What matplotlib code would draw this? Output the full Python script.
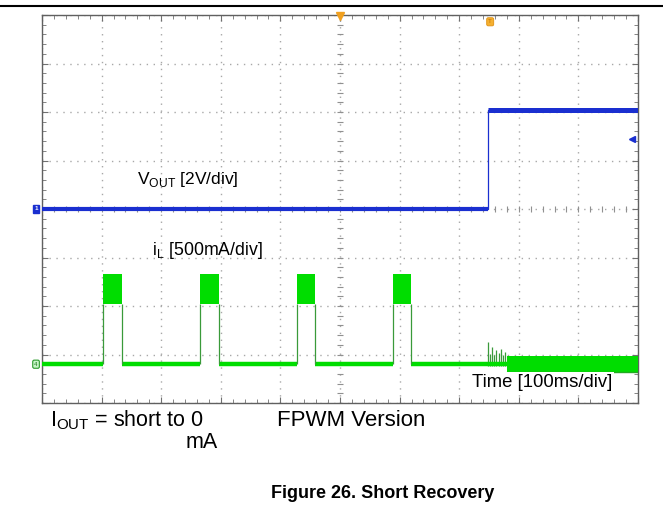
import matplotlib
matplotlib.use("Agg")
import matplotlib.pyplot as plt
from matplotlib.ticker import MultipleLocator
from matplotlib.lines import Line2D

plt.rcParams['font.family'] = ['Liberation Sans', 'DejaVu Sans']
plt.rcParams['mathtext.fontset'] = 'custom'
plt.rcParams['mathtext.rm'] = 'Liberation Sans'

# scope settings
T_DIV = 100.0      # ms per division
V_DIV = 2.0        # V per division (ch1)
I_DIV = 500.0      # mA per division (ch4)
CH1_OFFSET = 0.0   # divisions
CH4_OFFSET = -3.2  # divisions

# ch1 : output voltage (V)
vout_t = [0, 748, 748, 1000]
vout_v = [0.0, 0.0, 4.08, 4.08]

# ch4 : inductor current (mA), hiccup pulses during short
pulse_start = [103, 265, 428, 589]
pulse_end = [135, 297, 458, 619]
pulse_lo = 620
pulse_hi = 930

# recovery ringing after short removed
spike_t = [749, 752, 755, 759, 762, 766, 770, 773, 777]
spike_i = [230, 110, 180, 90, 150, 120, 160, 100, 130]
band_start = 780
band_lo = -93
band_hi = 82

BLUE = '#1a2fd0'
GREEN = '#00dd00'
EDGE_GREEN = '#3a9a3a'


def ch1(v):
    return CH1_OFFSET + v / V_DIV


def ch4(i):
    return CH4_OFFSET + i / I_DIV


def px(x, y):
    return x / 663.0, 1 - y / 516.0


fig = plt.figure(figsize=(6.63, 5.16), dpi=100)
ax = fig.add_axes([42 / 663, 113 / 516, 596 / 663, 388 / 516])
ax.set_xlim(0, 10 * T_DIV)
ax.set_ylim(-4, 4)

# graticule
ax.xaxis.set_major_locator(MultipleLocator(T_DIV))
ax.yaxis.set_major_locator(MultipleLocator(1))
ax.xaxis.set_minor_locator(MultipleLocator(T_DIV / 5))
ax.yaxis.set_minor_locator(MultipleLocator(0.2))
ax.grid(True, which='major', color='#a8a8a8', linestyle=(0, (1, 4)), lw=1.0)
ax.tick_params(which='both', direction='in', top=True, right=True,
               labelbottom=False, labelleft=False, color='#707070')
ax.tick_params(which='major', length=4)
ax.tick_params(which='minor', length=3)
for s in ax.spines.values():
    s.set_color('#606060')
    s.set_linewidth(1.0)

# center cross ticks
cx = [T_DIV / 5 * k for k in range(51)]
ax.plot(cx, [0] * len(cx), ls='none', marker='|', ms=4, color='#909090', mew=0.8)
cy = [-4 + 0.2 * k for k in range(41)]
ax.plot([5 * T_DIV] * len(cy), cy, ls='none', marker='_', ms=4, color='#909090', mew=0.8)

# ch1 trace
ax.plot(vout_t, [ch1(v) for v in vout_v], color=BLUE, lw=0.9, zorder=4)
for k in range(len(vout_t) - 1):
    if vout_v[k] == vout_v[k + 1]:
        w = 3.0 if vout_v[k] == 0 else 3.6
        ax.plot(vout_t[k:k + 2], [ch1(vout_v[k])] * 2, color=BLUE, lw=w,
                solid_capstyle='butt', zorder=4)

# ch4 trace
base_t = [0]
for a, b in zip(pulse_start, pulse_end):
    base_t += [a, b]
base_t += [spike_t[0]]
for k in range(0, len(base_t), 2):
    ax.plot(base_t[k:k + 2], [ch4(0)] * 2, color=GREEN, lw=3.2,
            solid_capstyle='butt', zorder=3)
for a, b in zip(pulse_start, pulse_end):
    ax.vlines([a, b], ch4(0), ch4(pulse_lo), color=EDGE_GREEN, lw=0.9, zorder=3)
    ax.fill_between([a, b], ch4(pulse_lo), ch4(pulse_hi), color=GREEN,
                    lw=0, zorder=3)
ax.vlines(spike_t, ch4(-20), [ch4(i) for i in spike_i], color=EDGE_GREEN,
          lw=0.9, zorder=3)
ax.plot([spike_t[0], band_start], [ch4(0)] * 2, color=GREEN, lw=3.2,
        solid_capstyle='butt', zorder=3)
ax.fill_between([band_start, 10 * T_DIV], ch4(band_lo), ch4(band_hi),
                color=GREEN, lw=0, zorder=3)
ax.plot([band_start, 10 * T_DIV], [ch4(band_lo) + 0.03] * 2, color='#22aa22',
        lw=1.0, zorder=3)

# channel / trigger markers
ax.text(-10, ch1(0), '1', color='white', fontsize=4.5, ha='center', va='center',
        fontweight='bold', clip_on=False,
        bbox=dict(boxstyle='square,pad=0.25', fc=BLUE, ec=BLUE))
ax.text(-10, ch4(0), '4', color='#1a7a1a', fontsize=4.5, ha='center', va='center',
        clip_on=False,
        bbox=dict(boxstyle='round,pad=0.25', fc='#c8f5c8', ec='#2a9a2a', lw=0.8))
ax.plot([500], [3.97], marker='v', color='#f0a020', ms=6, clip_on=False, zorder=6)
ax.text(752, 3.86, 'T', color='#c07000', fontsize=4.5, ha='center', va='center',
        clip_on=False,
        bbox=dict(boxstyle='round,pad=0.25', fc='#f5b030', ec='#e09010', lw=0.6))
ax.plot([990], [1.44], marker='<', color=BLUE, ms=4, zorder=6)

# labels on the screen
ax.text(0.159, 0.575, r'V$_\mathrm{OUT}$ [2V/div]', transform=ax.transAxes,
        fontsize=12.5, va='center', ha='left')
ax.text(0.185, 0.392, r'i$_\mathrm{L}$ [500mA/div]', transform=ax.transAxes,
        fontsize=12.8, va='center', ha='left')
ax.text(0.722, 0.054, 'Time [100ms/div]', transform=ax.transAxes,
        fontsize=13.3, va='center', ha='left',
        bbox=dict(fc='white', ec='none', pad=1))

# top rule
fig.add_artist(Line2D([0, 1], [1 - 6 / 516] * 2, color='black', lw=1.5))

# captions
fig.text(*px(50, 420), r'I$_\mathrm{OUT}$ = short to 0', fontsize=15.5,
         va='center', ha='left')
fig.text(*px(218, 443), 'mA', fontsize=15.5, va='center', ha='right')
fig.text(*px(277, 420), 'FPWM Version', fontsize=16, va='center', ha='left')
fig.text(*px(383, 493), 'Figure 26. Short Recovery', fontsize=13,
         fontweight='bold', va='center', ha='center')

fig.savefig('out.png', dpi=100)
